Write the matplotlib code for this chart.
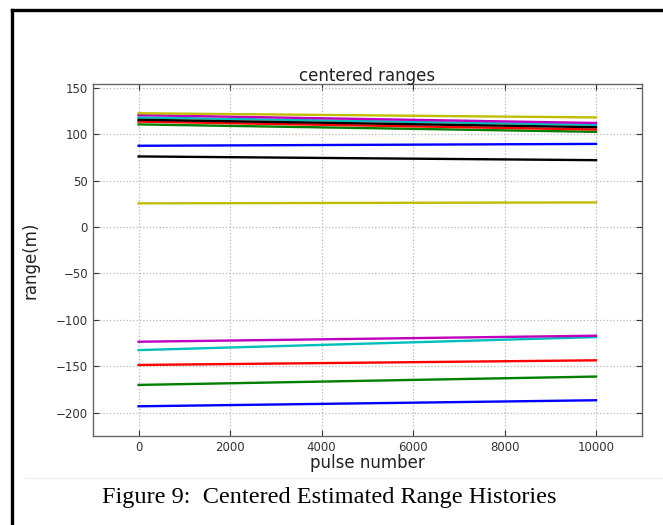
import matplotlib.pyplot as plt
from matplotlib.lines import Line2D

# pulse numbers at start and end of each range history
pulses = [0, 10000]

# colours follow the classic b g r c m y k cycle, twice
colors = ['b', 'g', 'r', 'c', 'm', 'y', 'k',
          'b', 'g', 'r', 'c', 'm', 'y', 'k']
range_start = [-193.0, -170.0, -148.5, -132.5, -123.5, 25.5, 76.0,
               87.5, 110.5, 113.5, 118.0, 120.5, 122.5, 115.5]
range_end = [-186.5, -161.0, -143.5, -118.5, -117.0, 26.5, 72.0,
             89.5, 102.5, 105.0, 110.0, 112.0, 118.0, 107.5]

fig = plt.figure(figsize=(6.63, 5.25), dpi=100)
ax = fig.add_axes([0.140, 0.1695, 0.828, 0.6705])

for (i, c) in enumerate(colors):
    ax.plot(pulses, [range_start[i], range_end[i]], color=c, lw=1.7)

ax.set_xlim(-1000, 11000)
ax.set_ylim(-225, 154)
ax.set_xticks(range(0, 10001, 2000))
ax.set_yticks(range(-200, 151, 50))
ax.grid(True, color='#b8b8b8', linestyle=':', linewidth=0.9)
ax.tick_params(direction='in', top=True, right=True, labelsize=8.5,
               colors='#333333', length=4)
for s in ax.spines.values():
    s.set_color('#666666')
    s.set_linewidth(1.0)

ax.set_title('centered ranges', fontsize=12, color='#222222', pad=2)
ax.set_xlabel('pulse number', fontsize=12, color='#222222', labelpad=0)
ax.set_ylabel('range(m)', fontsize=12, color='#222222', labelpad=12)

# page frame and caption
fig.add_artist(Line2D([12 / 663, 12 / 663], [0, 1 - 10 / 525], color='k', lw=2.4))
fig.add_artist(Line2D([12 / 663, 1], [1 - 10 / 525, 1 - 10 / 525], color='k', lw=2.4))
fig.add_artist(Line2D([25 / 663, 1], [1 - 478 / 525, 1 - 478 / 525], color='#eeeeee', lw=0.8))
fig.text(329 / 663, 1 - 497 / 525, 'Figure 9:  Centered Estimated Range Histories',
         ha='center', va='center', fontsize=17.5, family='Liberation Serif')

fig.savefig('out.png', dpi=100)
